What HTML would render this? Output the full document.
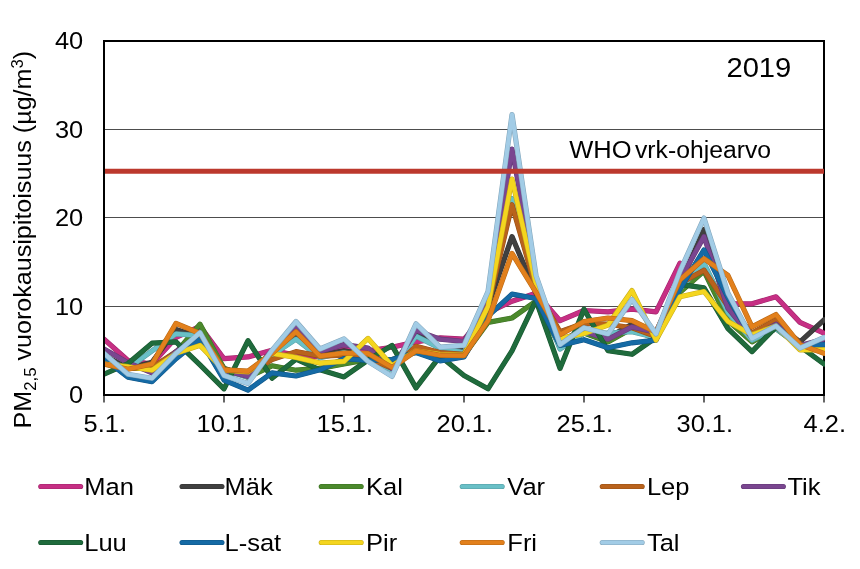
<!DOCTYPE html>
<html><head><meta charset="utf-8"><title>PM2,5 2019</title>
<style>
html,body{margin:0;padding:0;background:#fff;}
body{width:860px;height:569px;overflow:hidden;}
svg{display:block;}
text{font-family:"Liberation Sans",sans-serif;fill:#000;}
svg{will-change:transform;}
.ax{font-size:24px;}
.lg{font-size:24px;}
.s{fill:none;stroke-linejoin:round;stroke-linecap:round;}
</style></head><body>
<svg width="860" height="569" viewBox="0 0 860 569">
<rect x="0" y="0" width="860" height="569" fill="#fff"/>
<line x1="104.0" x2="824.0" y1="306.5" y2="306.5" stroke="#4d4d4d" stroke-width="1"/>
<line x1="104.0" x2="824.0" y1="217.5" y2="217.5" stroke="#4d4d4d" stroke-width="1"/>
<line x1="104.0" x2="824.0" y1="129.5" y2="129.5" stroke="#4d4d4d" stroke-width="1"/>
<rect x="104.0" y="41.0" width="720.0" height="354.0" fill="none" stroke="#000" stroke-width="2"/>
<defs><clipPath id="c"><rect x="105.0" y="41.0" width="720.0" height="354.0"/></clipPath></defs>
<g clip-path="url(#c)">
<polyline class="s" stroke="#A2266C" stroke-width="5.2" points="104.0,339.2 128.0,360.5 152.0,364.0 176.0,337.5 200.0,326.4 224.0,358.7 248.0,356.9 272.0,350.3 296.0,355.2 320.0,356.9 344.0,347.2 368.0,350.8 392.0,347.2 416.0,341.9 440.0,337.9 464.0,339.2 488.0,312.7 512.0,301.2 536.0,293.2 560.0,320.7 584.0,310.5 608.0,311.8 632.0,309.2 656.0,311.8 680.0,263.1"/>
<polyline class="s" stroke="#A2266C" stroke-width="5.2" points="728.0,303.8 752.0,303.8 776.0,296.8 800.0,322.4 824.0,333.1"/>
<polyline class="s" stroke="#C62F84" stroke-width="4.1" points="104.0,339.2 128.0,360.5 152.0,364.0 176.0,337.5 200.0,326.4 224.0,358.7 248.0,356.9 272.0,350.3 296.0,355.2 320.0,356.9 344.0,347.2 368.0,350.8 392.0,347.2 416.0,341.9 440.0,337.9 464.0,339.2 488.0,312.7 512.0,301.2 536.0,293.2 560.0,320.7 584.0,310.5 608.0,311.8 632.0,309.2 656.0,311.8 680.0,263.1"/>
<polyline class="s" stroke="#C62F84" stroke-width="4.1" points="728.0,303.8 752.0,303.8 776.0,296.8 800.0,322.4 824.0,333.1"/>
<polyline class="s" stroke="#343434" stroke-width="5.2" points="104.0,355.2 128.0,368.4 152.0,362.3 176.0,329.5 200.0,337.5 224.0,368.4 248.0,375.5 272.0,355.2 296.0,334.8 320.0,355.2 344.0,350.8 368.0,355.2 392.0,368.4 416.0,331.3 440.0,348.1 464.0,350.8 488.0,306.5 512.0,236.6 536.0,293.2 560.0,341.9 584.0,328.6 608.0,337.5 632.0,324.2 656.0,337.5 680.0,284.4 704.0,229.5 728.0,310.9 752.0,337.5 776.0,324.2 800.0,341.9 824.0,319.8"/>
<polyline class="s" stroke="#404040" stroke-width="4.1" points="104.0,355.2 128.0,368.4 152.0,362.3 176.0,329.5 200.0,337.5 224.0,368.4 248.0,375.5 272.0,355.2 296.0,334.8 320.0,355.2 344.0,350.8 368.0,355.2 392.0,368.4 416.0,331.3 440.0,348.1 464.0,350.8 488.0,306.5 512.0,236.6 536.0,293.2 560.0,341.9 584.0,328.6 608.0,337.5 632.0,324.2 656.0,337.5 680.0,284.4 704.0,229.5 728.0,310.9 752.0,337.5 776.0,324.2 800.0,341.9 824.0,319.8"/>
<polyline class="s" stroke="#3D7024" stroke-width="5.2" points="104.0,364.0 128.0,368.4 152.0,368.4 176.0,352.5 200.0,324.2 224.0,368.4 248.0,377.3 272.0,365.8 296.0,370.2 320.0,368.4 344.0,364.0 368.0,359.6 392.0,359.6 416.0,350.8 440.0,355.2 464.0,355.2 488.0,322.4 512.0,318.0 536.0,301.2 560.0,346.3 584.0,333.1 608.0,341.9 632.0,328.6 656.0,339.2 680.0,292.3 704.0,271.1 728.0,320.7 752.0,341.9 776.0,328.6 800.0,346.3 824.0,350.8"/>
<polyline class="s" stroke="#4B892C" stroke-width="4.1" points="104.0,364.0 128.0,368.4 152.0,368.4 176.0,352.5 200.0,324.2 224.0,368.4 248.0,377.3 272.0,365.8 296.0,370.2 320.0,368.4 344.0,364.0 368.0,359.6 392.0,359.6 416.0,350.8 440.0,355.2 464.0,355.2 488.0,322.4 512.0,318.0 536.0,301.2 560.0,346.3 584.0,333.1 608.0,341.9 632.0,328.6 656.0,339.2 680.0,292.3 704.0,271.1 728.0,320.7 752.0,341.9 776.0,328.6 800.0,346.3 824.0,350.8"/>
<polyline class="s" stroke="#569DA3" stroke-width="5.2" points="104.0,359.6 128.0,368.4 152.0,350.8 176.0,333.9 200.0,335.7 224.0,370.2 248.0,377.3 272.0,355.2 296.0,339.2 320.0,357.8 344.0,352.5 368.0,359.6 392.0,370.2 416.0,336.1 440.0,348.1 464.0,352.5 488.0,306.5 512.0,198.5 536.0,288.8 560.0,349.0 584.0,333.1 608.0,333.1 632.0,331.7 656.0,337.5 680.0,288.8 704.0,263.1 728.0,312.7 752.0,340.1 776.0,328.6 800.0,346.3 824.0,346.3"/>
<polyline class="s" stroke="#69C0C7" stroke-width="4.1" points="104.0,359.6 128.0,368.4 152.0,350.8 176.0,333.9 200.0,335.7 224.0,370.2 248.0,377.3 272.0,355.2 296.0,339.2 320.0,357.8 344.0,352.5 368.0,359.6 392.0,370.2 416.0,336.1 440.0,348.1 464.0,352.5 488.0,306.5 512.0,198.5 536.0,288.8 560.0,349.0 584.0,333.1 608.0,333.1 632.0,331.7 656.0,337.5 680.0,288.8 704.0,263.1 728.0,312.7 752.0,340.1 776.0,328.6 800.0,346.3 824.0,346.3"/>
<polyline class="s" stroke="#975016" stroke-width="5.2" points="104.0,361.4 128.0,368.4 152.0,367.6 176.0,351.6 200.0,340.1 224.0,369.3 248.0,374.6 272.0,359.6 296.0,351.6 320.0,356.1 344.0,355.2 368.0,357.8 392.0,368.4 416.0,346.3 440.0,352.5 464.0,354.3 488.0,306.5 512.0,204.7 536.0,288.8 560.0,331.7 584.0,323.3 608.0,324.2 632.0,327.7 656.0,336.6 680.0,283.5 704.0,270.2 728.0,306.5 752.0,333.1 776.0,319.8 800.0,343.7 824.0,350.8"/>
<polyline class="s" stroke="#B9621C" stroke-width="4.1" points="104.0,361.4 128.0,368.4 152.0,367.6 176.0,351.6 200.0,340.1 224.0,369.3 248.0,374.6 272.0,359.6 296.0,351.6 320.0,356.1 344.0,355.2 368.0,357.8 392.0,368.4 416.0,346.3 440.0,352.5 464.0,354.3 488.0,306.5 512.0,204.7 536.0,288.8 560.0,331.7 584.0,323.3 608.0,324.2 632.0,327.7 656.0,336.6 680.0,283.5 704.0,270.2 728.0,306.5 752.0,333.1 776.0,319.8 800.0,343.7 824.0,350.8"/>
<polyline class="s" stroke="#643976" stroke-width="5.2" points="104.0,349.0 128.0,362.7 152.0,372.9 176.0,351.6 200.0,334.8 224.0,370.2 248.0,376.4 272.0,350.8 296.0,326.4 320.0,351.6 344.0,344.6 368.0,348.1 392.0,368.4 416.0,330.4 440.0,339.2 464.0,341.5 488.0,302.1 512.0,149.0 536.0,279.9 560.0,341.9 584.0,331.3 608.0,339.2 632.0,326.9 656.0,332.2 680.0,279.9 704.0,236.6 728.0,308.3 752.0,337.5 776.0,324.2 800.0,345.4 824.0,339.2"/>
<polyline class="s" stroke="#7A4690" stroke-width="4.1" points="104.0,349.0 128.0,362.7 152.0,372.9 176.0,351.6 200.0,334.8 224.0,370.2 248.0,376.4 272.0,350.8 296.0,326.4 320.0,351.6 344.0,344.6 368.0,348.1 392.0,368.4 416.0,330.4 440.0,339.2 464.0,341.5 488.0,302.1 512.0,149.0 536.0,279.9 560.0,341.9 584.0,331.3 608.0,339.2 632.0,326.9 656.0,332.2 680.0,279.9 704.0,236.6 728.0,308.3 752.0,337.5 776.0,324.2 800.0,345.4 824.0,339.2"/>
<polyline class="s" stroke="#195731" stroke-width="5.2" points="104.0,374.2 128.0,363.6 152.0,343.2 176.0,341.9 200.0,364.9 224.0,388.8 248.0,340.6 272.0,378.2 296.0,359.2 320.0,369.8 344.0,376.9 368.0,360.0 392.0,345.4 416.0,387.9 440.0,356.1 464.0,375.5 488.0,388.8 512.0,350.8 536.0,300.3 560.0,368.4 584.0,309.2 608.0,350.8 632.0,354.3 656.0,337.5 680.0,284.4 704.0,287.9 728.0,328.6 752.0,351.6 776.0,326.9 800.0,346.3 824.0,364.0"/>
<polyline class="s" stroke="#1F6B3C" stroke-width="4.1" points="104.0,374.2 128.0,363.6 152.0,343.2 176.0,341.9 200.0,364.9 224.0,388.8 248.0,340.6 272.0,378.2 296.0,359.2 320.0,369.8 344.0,376.9 368.0,360.0 392.0,345.4 416.0,387.9 440.0,356.1 464.0,375.5 488.0,388.8 512.0,350.8 536.0,300.3 560.0,368.4 584.0,309.2 608.0,350.8 632.0,354.3 656.0,337.5 680.0,284.4 704.0,287.9 728.0,328.6 752.0,351.6 776.0,326.9 800.0,346.3 824.0,364.0"/>
<polyline class="s" stroke="#115687" stroke-width="5.2" points="104.0,358.7 128.0,377.3 152.0,381.7 176.0,358.7 200.0,339.2 224.0,380.0 248.0,390.1 272.0,372.9 296.0,376.0 320.0,369.8 344.0,358.7 368.0,360.5 392.0,359.6 416.0,352.5 440.0,360.9 464.0,356.9 488.0,316.2 512.0,294.1 536.0,298.5 560.0,345.4 584.0,339.7 608.0,347.7 632.0,342.8 656.0,340.1 680.0,288.8 704.0,249.9 728.0,297.6 752.0,337.5 776.0,326.0 800.0,346.3 824.0,344.6"/>
<polyline class="s" stroke="#156AA5" stroke-width="4.1" points="104.0,358.7 128.0,377.3 152.0,381.7 176.0,358.7 200.0,339.2 224.0,380.0 248.0,390.1 272.0,372.9 296.0,376.0 320.0,369.8 344.0,358.7 368.0,360.5 392.0,359.6 416.0,352.5 440.0,360.9 464.0,356.9 488.0,316.2 512.0,294.1 536.0,298.5 560.0,345.4 584.0,339.7 608.0,347.7 632.0,342.8 656.0,340.1 680.0,288.8 704.0,249.9 728.0,297.6 752.0,337.5 776.0,326.0 800.0,346.3 824.0,344.6"/>
<polyline class="s" stroke="#C8AE19" stroke-width="5.2" points="104.0,364.0 128.0,366.7 152.0,370.2 176.0,353.4 200.0,345.4 224.0,370.2 248.0,372.0 272.0,353.4 296.0,357.4 320.0,363.1 344.0,361.4 368.0,338.4 392.0,365.8 416.0,350.8 440.0,354.3 464.0,355.2 488.0,306.5 512.0,179.1 536.0,284.4 560.0,338.4 584.0,333.5 608.0,325.1 632.0,290.6 656.0,340.1 680.0,296.8 704.0,291.5 728.0,321.5 752.0,334.8 776.0,326.0 800.0,349.9 824.0,349.9"/>
<polyline class="s" stroke="#F4D51F" stroke-width="4.1" points="104.0,364.0 128.0,366.7 152.0,370.2 176.0,353.4 200.0,345.4 224.0,370.2 248.0,372.0 272.0,353.4 296.0,357.4 320.0,363.1 344.0,361.4 368.0,338.4 392.0,365.8 416.0,350.8 440.0,354.3 464.0,355.2 488.0,306.5 512.0,179.1 536.0,284.4 560.0,338.4 584.0,333.5 608.0,325.1 632.0,290.6 656.0,340.1 680.0,296.8 704.0,291.5 728.0,321.5 752.0,334.8 776.0,326.0 800.0,349.9 824.0,349.9"/>
<polyline class="s" stroke="#B96816" stroke-width="5.2" points="104.0,364.0 128.0,369.3 152.0,364.0 176.0,323.3 200.0,333.5 224.0,369.8 248.0,371.1 272.0,353.4 296.0,331.7 320.0,356.1 344.0,353.0 368.0,353.4 392.0,367.6 416.0,350.8 440.0,355.2 464.0,355.6 488.0,320.7 512.0,253.4 536.0,292.3 560.0,334.8 584.0,321.5 608.0,318.0 632.0,320.7 656.0,332.2 680.0,279.9 704.0,258.7 728.0,275.5 752.0,326.9 776.0,314.5 800.0,344.6 824.0,353.4"/>
<polyline class="s" stroke="#E2801C" stroke-width="4.1" points="104.0,364.0 128.0,369.3 152.0,364.0 176.0,323.3 200.0,333.5 224.0,369.8 248.0,371.1 272.0,353.4 296.0,331.7 320.0,356.1 344.0,353.0 368.0,353.4 392.0,367.6 416.0,350.8 440.0,355.2 464.0,355.6 488.0,320.7 512.0,253.4 536.0,292.3 560.0,334.8 584.0,321.5 608.0,318.0 632.0,320.7 656.0,332.2 680.0,279.9 704.0,258.7 728.0,275.5 752.0,326.9 776.0,314.5 800.0,344.6 824.0,353.4"/>
<polyline class="s" stroke="#84A7BC" stroke-width="5.2" points="104.0,353.4 128.0,374.2 152.0,378.2 176.0,353.4 200.0,332.6 224.0,375.5 248.0,383.5 272.0,350.3 296.0,321.5 320.0,349.0 344.0,338.8 368.0,361.4 392.0,376.4 416.0,323.8 440.0,347.2 464.0,345.4 488.0,291.5 512.0,114.5 536.0,275.5 560.0,344.6 584.0,327.7 608.0,333.9 632.0,299.4 656.0,333.9 680.0,271.1 704.0,218.0 728.0,293.2 752.0,338.4 776.0,326.0 800.0,348.1 824.0,337.5"/>
<polyline class="s" stroke="#A2CCE6" stroke-width="4.1" points="104.0,353.4 128.0,374.2 152.0,378.2 176.0,353.4 200.0,332.6 224.0,375.5 248.0,383.5 272.0,350.3 296.0,321.5 320.0,349.0 344.0,338.8 368.0,361.4 392.0,376.4 416.0,323.8 440.0,347.2 464.0,345.4 488.0,291.5 512.0,114.5 536.0,275.5 560.0,344.6 584.0,327.7 608.0,333.9 632.0,299.4 656.0,333.9 680.0,271.1 704.0,218.0 728.0,293.2 752.0,338.4 776.0,326.0 800.0,348.1 824.0,337.5"/>
</g>
<line x1="105.0" x2="824.0" y1="171.3" y2="171.3" stroke="#BC392D" stroke-width="5.1"/>
<line x1="104.0" x2="104.0" y1="395.0" y2="402.6" stroke="#000" stroke-width="1.2"/>
<line x1="224.0" x2="224.0" y1="395.0" y2="402.6" stroke="#000" stroke-width="1.2"/>
<line x1="344.0" x2="344.0" y1="395.0" y2="402.6" stroke="#000" stroke-width="1.2"/>
<line x1="464.0" x2="464.0" y1="395.0" y2="402.6" stroke="#000" stroke-width="1.2"/>
<line x1="584.0" x2="584.0" y1="395.0" y2="402.6" stroke="#000" stroke-width="1.2"/>
<line x1="704.0" x2="704.0" y1="395.0" y2="402.6" stroke="#000" stroke-width="1.2"/>
<line x1="824.0" x2="824.0" y1="395.0" y2="402.6" stroke="#000" stroke-width="1.2"/>
<text transform="translate(104.8,432.3) scale(1.05,1)" font-size="24.2" text-anchor="middle">5.1.</text>
<text transform="translate(224.8,432.3) scale(1.05,1)" font-size="24.2" text-anchor="middle">10.1.</text>
<text transform="translate(344.8,432.3) scale(1.05,1)" font-size="24.2" text-anchor="middle">15.1.</text>
<text transform="translate(464.8,432.3) scale(1.05,1)" font-size="24.2" text-anchor="middle">20.1.</text>
<text transform="translate(584.8,432.3) scale(1.05,1)" font-size="24.2" text-anchor="middle">25.1.</text>
<text transform="translate(704.8,432.3) scale(1.05,1)" font-size="24.2" text-anchor="middle">30.1.</text>
<text transform="translate(824.8,432.3) scale(1.05,1)" font-size="24.2" text-anchor="middle">4.2.</text>
<text transform="translate(83.2,403.4) scale(1.05,1)" font-size="24.2" text-anchor="end">0</text>
<text transform="translate(83.2,314.9) scale(1.05,1)" font-size="24.2" text-anchor="end">10</text>
<text transform="translate(83.2,226.4) scale(1.05,1)" font-size="24.2" text-anchor="end">20</text>
<text transform="translate(83.2,137.9) scale(1.05,1)" font-size="24.2" text-anchor="end">30</text>
<text transform="translate(83.2,49.4) scale(1.05,1)" font-size="24.2" text-anchor="end">40</text>
<text class="ax" style="font-size:24.2px" transform="translate(30.6,428.4) rotate(-90) scale(1.037,1)" x="0" y="0">PM<tspan font-size="16.2" dy="5">2,5</tspan><tspan dy="-5"> vuorokausipitoisuus (µg/m</tspan><tspan font-size="16.2" dy="-8">3</tspan><tspan dy="8">)</tspan></text>
<text transform="translate(726.4,76.5) scale(1.05,1)" font-size="27.8" text-anchor="start">2019</text>
<text transform="translate(569.3,158.0) scale(1.095,1)" font-size="23.3" text-anchor="start">WHO</text>
<text transform="translate(635.0,158.0) scale(1.062,1)" font-size="23.3" text-anchor="start">vrk-ohjearvo</text>
<line x1="40.8" x2="80.6" y1="486.5" y2="486.5" stroke="#A2266C" stroke-width="5.2" stroke-linecap="round"/>
<line x1="40.8" x2="80.6" y1="486.5" y2="486.5" stroke="#C62F84" stroke-width="4.1" stroke-linecap="round"/>
<text transform="translate(84.2,494.8) scale(1.05,1)" font-size="24.3" text-anchor="start">Man</text>
<line x1="182.10000000000002" x2="221.9" y1="486.5" y2="486.5" stroke="#343434" stroke-width="5.2" stroke-linecap="round"/>
<line x1="182.10000000000002" x2="221.9" y1="486.5" y2="486.5" stroke="#404040" stroke-width="4.1" stroke-linecap="round"/>
<text transform="translate(224.5,494.8) scale(1.05,1)" font-size="24.3" text-anchor="start">Mäk</text>
<line x1="321.3" x2="361.1" y1="486.5" y2="486.5" stroke="#3D7024" stroke-width="5.2" stroke-linecap="round"/>
<line x1="321.3" x2="361.1" y1="486.5" y2="486.5" stroke="#4B892C" stroke-width="4.1" stroke-linecap="round"/>
<text transform="translate(366.1,494.8) scale(1.05,1)" font-size="24.3" text-anchor="start">Kal</text>
<line x1="462.3" x2="502.1" y1="486.5" y2="486.5" stroke="#569DA3" stroke-width="5.2" stroke-linecap="round"/>
<line x1="462.3" x2="502.1" y1="486.5" y2="486.5" stroke="#69C0C7" stroke-width="4.1" stroke-linecap="round"/>
<text transform="translate(507.3,494.8) scale(1.05,1)" font-size="24.3" text-anchor="start">Var</text>
<line x1="602.3" x2="642.1" y1="486.5" y2="486.5" stroke="#975016" stroke-width="5.2" stroke-linecap="round"/>
<line x1="602.3" x2="642.1" y1="486.5" y2="486.5" stroke="#B9621C" stroke-width="4.1" stroke-linecap="round"/>
<text transform="translate(646.9,494.8) scale(1.05,1)" font-size="24.3" text-anchor="start">Lep</text>
<line x1="743.5" x2="783.3000000000001" y1="486.5" y2="486.5" stroke="#643976" stroke-width="5.2" stroke-linecap="round"/>
<line x1="743.5" x2="783.3000000000001" y1="486.5" y2="486.5" stroke="#7A4690" stroke-width="4.1" stroke-linecap="round"/>
<text transform="translate(787.4,494.8) scale(1.05,1)" font-size="24.3" text-anchor="start">Tik</text>
<line x1="40.8" x2="80.6" y1="542.5" y2="542.5" stroke="#195731" stroke-width="5.2" stroke-linecap="round"/>
<line x1="40.8" x2="80.6" y1="542.5" y2="542.5" stroke="#1F6B3C" stroke-width="4.1" stroke-linecap="round"/>
<text transform="translate(84.2,550.8) scale(1.05,1)" font-size="24.3" text-anchor="start">Luu</text>
<line x1="182.10000000000002" x2="221.9" y1="542.5" y2="542.5" stroke="#115687" stroke-width="5.2" stroke-linecap="round"/>
<line x1="182.10000000000002" x2="221.9" y1="542.5" y2="542.5" stroke="#156AA5" stroke-width="4.1" stroke-linecap="round"/>
<text transform="translate(224.5,550.8) scale(1.05,1)" font-size="24.3" text-anchor="start">L-sat</text>
<line x1="321.3" x2="361.1" y1="542.5" y2="542.5" stroke="#C8AE19" stroke-width="5.2" stroke-linecap="round"/>
<line x1="321.3" x2="361.1" y1="542.5" y2="542.5" stroke="#F4D51F" stroke-width="4.1" stroke-linecap="round"/>
<text transform="translate(366.1,550.8) scale(1.05,1)" font-size="24.3" text-anchor="start">Pir</text>
<line x1="462.3" x2="502.1" y1="542.5" y2="542.5" stroke="#B96816" stroke-width="5.2" stroke-linecap="round"/>
<line x1="462.3" x2="502.1" y1="542.5" y2="542.5" stroke="#E2801C" stroke-width="4.1" stroke-linecap="round"/>
<text transform="translate(507.3,550.8) scale(1.05,1)" font-size="24.3" text-anchor="start">Fri</text>
<line x1="602.3" x2="642.1" y1="542.5" y2="542.5" stroke="#84A7BC" stroke-width="5.2" stroke-linecap="round"/>
<line x1="602.3" x2="642.1" y1="542.5" y2="542.5" stroke="#A2CCE6" stroke-width="4.1" stroke-linecap="round"/>
<text transform="translate(646.9,550.8) scale(1.05,1)" font-size="24.3" text-anchor="start">Tal</text>
</svg></body></html>
